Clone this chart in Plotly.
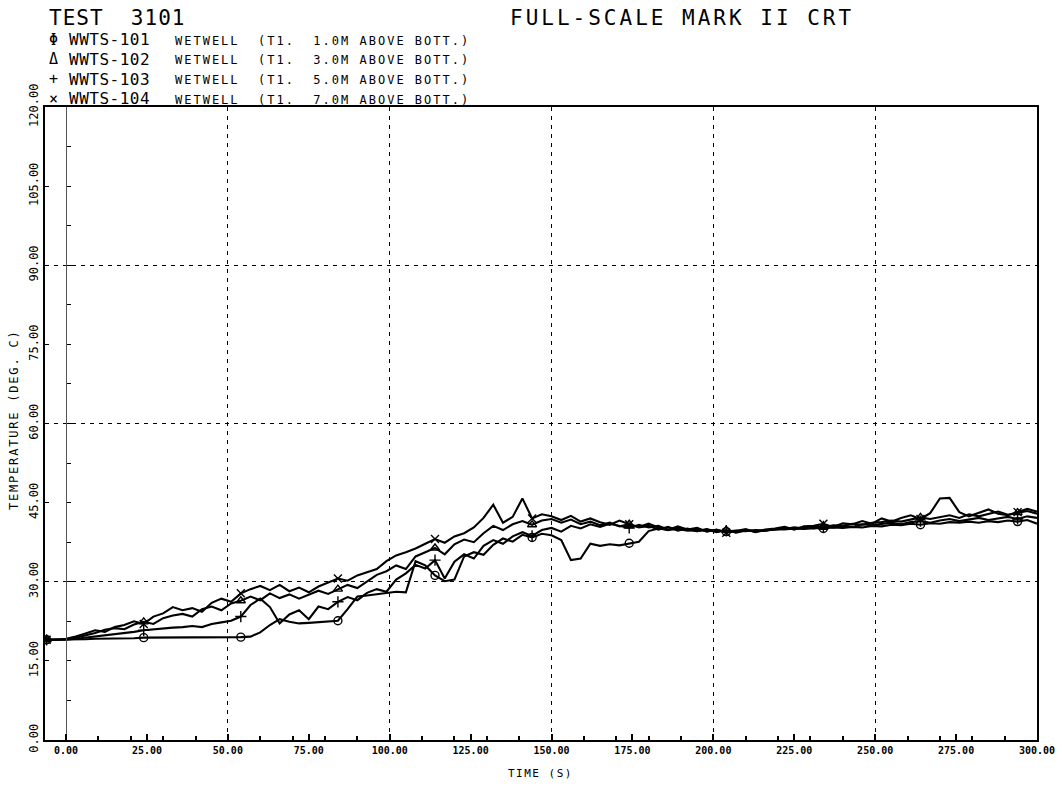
import plotly.graph_objects as go

# time grid (s)
TIME = [-6, -3, 0, 3, 6, 9, 12, 15, 18, 21, 24, 27, 30, 33, 36, 39, 42, 45, 48, 51,
        54, 57, 60, 63, 66, 69, 72, 75, 78, 81, 84, 87, 90, 93, 96, 99, 102, 105, 108, 111,
        114, 117, 120, 123, 126, 129, 132, 135, 138, 141, 144, 147, 150, 153, 156, 159, 162, 165, 168, 171,
        174, 177, 180, 183, 186, 189, 192, 195, 198, 201, 204, 207, 210, 213, 216, 219, 222, 225, 228, 231,
        234, 237, 240, 243, 246, 249, 252, 255, 258, 261, 264, 267, 270, 273, 276, 279, 282, 285, 288, 291,
        294, 297, 300]

# WWTS-101 (1.0 m above bottom)
T101 = [19.0, 19.0, 19.0, 19.1, 19.1, 19.2, 19.2, 19.3, 19.3, 19.3, 19.4, 19.4, 19.4, 19.4, 19.5, 19.5, 19.5, 19.5, 19.5, 19.5,
        19.5, 19.6, 20.4, 21.8, 22.9, 22.4, 22.1, 22.2, 22.3, 22.5, 22.6, 24.8, 27.2, 27.4, 27.6, 27.9, 28.1, 28.0, 33.9, 33.1,
        31.2, 30.1, 30.4, 34.8, 35.6, 35.1, 37.0, 38.2, 37.6, 38.9, 38.4, 39.1, 38.8, 37.9, 34.1, 34.4, 37.2, 36.8, 37.1, 36.9,
        37.3, 37.6, 39.6, 40.1, 39.8, 40.0, 39.7, 39.9, 39.6, 39.8, 39.5, 39.7, 39.6, 39.8, 39.7, 40.0, 39.9, 40.1, 40.0, 40.2,
        40.1, 40.3, 40.2, 40.4, 40.3, 40.6, 40.5, 40.8, 40.7, 41.0, 40.8, 41.1, 41.0, 41.3, 41.2, 41.4, 41.2, 41.5, 41.3, 41.6,
        41.4, 41.7, 41.0]

# WWTS-102 (3.0 m above bottom)
T102 = [19.0, 19.0, 19.1, 19.4, 19.8, 20.3, 20.9, 21.2, 21.0, 21.9, 22.4, 22.0, 23.1, 23.6, 23.9, 23.4, 24.8, 25.3, 24.6, 25.9,
        26.4, 27.2, 26.5, 27.8, 26.9, 27.6, 26.8, 27.5, 28.3, 27.7, 28.6, 29.4, 28.8, 30.1, 31.3, 32.0, 33.1, 32.4, 34.8, 35.6,
        36.4, 35.2, 37.1, 38.0, 37.5, 39.2, 40.6, 39.8, 40.9, 41.5, 40.8, 41.6, 41.9, 41.2, 41.8, 40.9, 41.4, 40.7, 41.2, 40.5,
        40.9, 40.3, 40.6, 39.9, 40.4, 39.7, 40.1, 39.6, 39.9, 39.4, 39.8, 39.3, 39.7, 39.6, 39.8, 39.9, 40.0, 40.3, 40.1, 40.4,
        40.3, 40.7, 40.6, 41.0, 40.8, 41.2, 41.3, 41.6, 41.4, 41.8, 42.2, 41.9, 42.3, 42.6, 42.1, 42.8, 42.4, 42.9, 43.3, 42.7,
        43.1, 43.4, 42.9]

# WWTS-103 (5.0 m above bottom)
T103 = [19.0, 19.0, 19.0, 19.2, 19.4, 19.6, 19.8, 20.0, 20.2, 20.5, 20.8, 21.0, 21.1, 21.3, 21.4, 21.6, 21.4, 22.0, 22.3, 22.6,
        23.4, 25.6, 26.8, 25.2, 22.1, 23.8, 24.6, 22.9, 25.3, 24.8, 26.2, 27.1, 26.5, 27.9, 28.6, 28.1, 30.4, 31.6, 33.2, 32.5,
        34.1, 30.6, 33.8, 35.2, 34.4, 36.8, 37.9, 37.2, 38.6, 39.4, 38.7, 39.8, 40.2, 39.5, 40.6, 40.1, 40.9, 40.4, 41.0, 40.6,
        40.2, 40.8, 40.3, 40.6, 39.9, 40.2, 39.8, 39.6, 40.0, 39.5, 39.7, 39.4, 39.8, 39.5, 39.7, 39.9, 40.1, 40.0, 40.2, 40.1,
        40.5, 40.3, 40.6, 40.4, 40.9, 40.7, 41.0, 41.2, 40.9, 41.3, 41.5, 41.2, 41.6, 41.9, 41.5, 41.8, 42.1, 41.7, 42.0, 42.3,
        41.9, 42.4, 42.1]

# WWTS-104 (7.0 m above bottom)
T104 = [19.0, 19.0, 19.2, 19.6, 20.2, 20.8, 20.5, 21.4, 21.8, 22.5, 22.0, 23.4, 24.0, 25.2, 24.6, 25.0, 24.3, 26.0, 26.8, 26.2,
        27.8, 28.6, 29.2, 28.4, 29.4, 28.2, 28.9, 28.0, 29.1, 29.8, 30.6, 30.2, 31.2, 31.8, 32.4, 33.9, 35.0, 35.6, 36.3, 37.2,
        38.1, 37.4, 38.6, 39.2, 40.3, 42.1, 44.6, 41.2, 42.3, 45.8, 42.0, 42.8, 42.4, 41.7, 42.5, 41.4, 42.0, 41.3, 40.8, 41.6,
        40.9, 40.4, 41.0, 40.3, 39.8, 40.5, 39.9, 40.2, 39.5, 39.9, 39.3, 39.6, 40.0, 39.4, 39.9, 40.1, 40.4, 39.9, 40.5, 40.6,
        41.0, 40.4, 41.1, 40.9, 41.5, 41.0, 42.0, 41.4, 42.1, 42.6, 41.9, 43.0, 45.8, 45.9, 43.2, 42.4, 43.1, 43.7, 42.9, 42.6,
        43.2, 43.8, 43.3]

NAMES = ["WWTS-101", "WWTS-102", "WWTS-103", "WWTS-104"]
DESCR = ["WETWELL  (T1.  1.0M ABOVE BOTT.)", "WETWELL  (T1.  3.0M ABOVE BOTT.)",
         "WETWELL  (T1.  5.0M ABOVE BOTT.)", "WETWELL  (T1.  7.0M ABOVE BOTT.)"]
SYMBOL_TEXT = ["\u03a6", "\u0394", "+", "\u00d7"]
X_TICKS = [0, 25, 50, 75, 100, 125, 150, 175, 200, 225, 250, 275, 300]
Y_TICKS = [0, 15, 30, 45, 60, 75, 90, 105, 120]
X_GRID = [50, 100, 150, 200, 250]
Y_GRID = [30, 60, 90]

SERIES = [T101, T102, T103, T104]
SYMBOLS = ["circle-open", "triangle-up-open", "cross-thin-open", "x-thin-open"]

FONT = "DejaVu Sans Mono, monospace"
XMIN, XMAX = -6.5, 300
W, H = 1062, 790
ML, MR, MT, MB = 45, 25, 107, 50
PW, PH = W - ML - MR, H - MT - MB


def px(xp):
    return (xp - ML) / PW


def py(yp):
    return (H - MB - yp) / PH


def spaced(s, ls):
    return "<span style='letter-spacing:%spx'>%s</span>" % (ls, s.replace(" ", "&nbsp;"))


fig = go.Figure()
for name, ys, sym in zip(NAMES, SERIES, SYMBOLS):
    fig.add_trace(go.Scatter(x=TIME, y=ys, mode="lines", name=name,
                             line=dict(color="black", width=2.1),
                             showlegend=False, hoverinfo="skip"))
    fig.add_trace(go.Scatter(x=TIME[::10], y=ys[::10], mode="markers", name=name,
                             marker=dict(symbol=sym, size=8, color="black",
                                         line=dict(width=1.4, color="black")),
                             showlegend=False, hoverinfo="skip"))

# invisible trace to carry the overlay grid axes
fig.add_trace(go.Scatter(x=TIME[:1], y=T101[:1], xaxis="x2", yaxis="y2", mode="markers",
                         marker=dict(opacity=0), showlegend=False, hoverinfo="skip"))

fig.update_layout(
    width=W, height=H, autosize=False,
    margin=dict(l=ML, r=MR, t=MT, b=MB),
    paper_bgcolor="white", plot_bgcolor="white",
    font=dict(family=FONT, color="black", size=10),
    xaxis=dict(range=[XMIN, XMAX], tickvals=X_TICKS,
               ticktext=["%.2f" % v for v in X_TICKS],
               showgrid=False, zeroline=False, showline=True, mirror=True,
               linecolor="black", linewidth=2, ticks="inside", ticklen=6,
               tickwidth=1.5, tickcolor="black",
               minor=dict(dtick=10, tick0=0, ticks="inside", ticklen=4, tickcolor="black"),
               tickfont=dict(family=FONT, size=10, weight="bold"), automargin=False),
    yaxis=dict(range=[0, 120], tickvals=Y_TICKS,
               ticktext=["%.2f" % v for v in Y_TICKS], tickangle=-90,
               showgrid=False, zeroline=False, showline=True, mirror=True,
               linecolor="black", linewidth=2, ticks="inside", ticklen=4,
               tickcolor="black", tickfont=dict(family=FONT, size=12),
               automargin=False),
    xaxis2=dict(range=[XMIN, XMAX], overlaying="x", anchor="y2", tickvals=X_GRID,
                showticklabels=False, ticks="", showgrid=True, gridcolor="black",
                gridwidth=1, griddash="4px,5px", zeroline=False, showline=False),
    yaxis2=dict(range=[0, 120], overlaying="y", anchor="free",
                position=(0 - XMIN) / (XMAX - XMIN), side="left",
                tickvals=Y_GRID, showticklabels=False, ticks="inside", ticklen=5,
                tickcolor="black",
                minor=dict(dtick=7.5, tick0=0, ticks="inside", ticklen=4, tickcolor="black"),
                showgrid=True, gridcolor="black", gridwidth=1, griddash="4px,5px",
                zeroline=False, showline=True, linecolor="#555555", linewidth=1),
)

ann = []
ann.append(dict(text=spaced("TEST  3101", 1), x=px(47), y=py(18), xref="paper", yref="paper",
                xanchor="left", yanchor="middle", showarrow=False,
                font=dict(family=FONT, size=21)))
ann.append(dict(text=spaced("FULL-SCALE MARK II CRT", 3),
                x=px(508), y=py(18), xref="paper", yref="paper",
                xanchor="left", yanchor="middle", showarrow=False,
                font=dict(family=FONT, size=21)))
for i, (sym, name, d) in enumerate(zip(SYMBOL_TEXT, NAMES, DESCR)):
    yrow = 40 + 19.5 * i
    ann.append(dict(text=sym, x=px(53), y=py(yrow), xref="paper", yref="paper",
                    xanchor="center", yanchor="middle", showarrow=False,
                    font=dict(family=FONT, size=15)))
    ann.append(dict(text=spaced(name, 0.5), x=px(67), y=py(yrow), xref="paper", yref="paper",
                    xanchor="left", yanchor="middle", showarrow=False,
                    font=dict(family=FONT, size=16)))
    ann.append(dict(text=spaced(d, 2), x=px(173), y=py(yrow + 1), xref="paper", yref="paper",
                    xanchor="left", yanchor="middle", showarrow=False,
                    font=dict(family=FONT, size=12)))
ann.append(dict(text=spaced("TIME (S)", 1.5), x=px(540), y=py(773), xref="paper", yref="paper",
                xanchor="center", yanchor="middle", showarrow=False,
                font=dict(family=FONT, size=11)))
ann.append(dict(text=spaced("TEMPERATURE (DEG. C)", 1.8), x=px(14), y=py(420),
                xref="paper", yref="paper",
                xanchor="center", yanchor="middle", textangle=-90, showarrow=False,
                font=dict(family=FONT, size=12)))
fig.update_layout(annotations=ann)

fig.write_html("out.html")
